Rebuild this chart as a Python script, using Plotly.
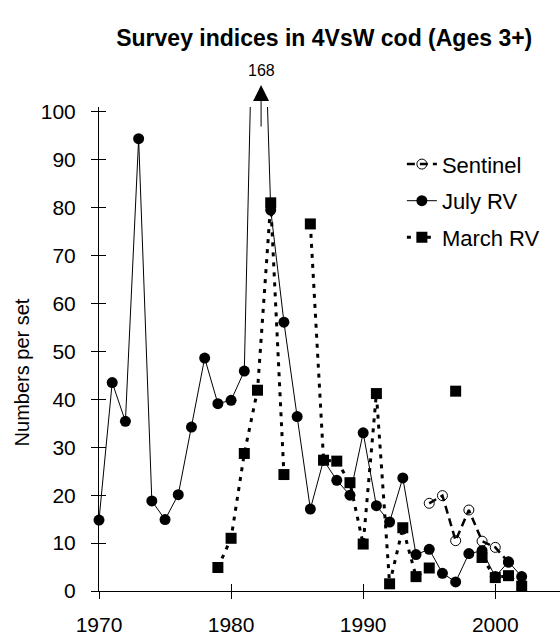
import plotly.graph_objects as go

# ---- data ----
july_years = list(range(1970, 2003))
july_values = [14.8, 43.5, 35.4, 94.4, 18.8, 14.9, 20.1, 34.2, 48.6, 39.1,
               39.8, 45.9, 168.0, 79.5, 56.1, 36.4, 17.1, 27.3, 23.1, 20.0,
               33.0, 17.8, 14.4, 23.6, 7.6, 8.7, 3.7, 1.9, 7.8, 8.4,
               3.0, 6.1, 3.0]

march_years = list(range(1979, 2003))
march_values = [4.9, 11.0, 28.7, 41.9, 81.0, 24.3, None, 76.6, 27.3, 27.1,
                22.6, 9.8, 41.2, 1.5, 13.2, 3.0, 4.8, None, 41.7, None,
                7.0, 2.8, 3.2, 1.0]

sentinel_years = list(range(1995, 2002))
sentinel_values = [18.3, 19.9, 10.5, 16.9, 10.4, 9.1, 6.0]

x_ticks = [1970, 1980, 1990, 2000]
y_ticks = list(range(0, 101, 10))
off_scale_label = "168"
off_scale_year = 1982.27

title_text = "Survey indices in 4VsW cod (Ages 3+)"
y_title = "Numbers per set"

FONT = "Liberation Sans, Arial, sans-serif"

xr = [1970, 2004.9]
yr = [0, 101]

fig = go.Figure()

fig.add_trace(go.Scatter(
    x=sentinel_years, y=sentinel_values, name="Sentinel",
    mode="lines+markers", legendgroup="a",
    line=dict(color="black", width=2.5, dash="8px,5px"),
    marker=dict(symbol="circle-open", size=10, color="black", line=dict(width=1)),
    cliponaxis=False,
))
fig.add_trace(go.Scatter(
    x=july_years, y=july_values, name="July RV",
    mode="lines+markers", legendgroup="b",
    line=dict(color="black", width=1),
    marker=dict(symbol="circle", size=11, color="black"),
    cliponaxis=False,
))
fig.add_trace(go.Scatter(
    x=march_years, y=march_values, name="March RV",
    mode="lines+markers", legendgroup="c",
    line=dict(color="black", width=3, dash="4px,6px"),
    marker=dict(symbol="square", size=11, color="black"),
    connectgaps=False,
    cliponaxis=False,
))

# invisible trace so the overlay axes (inner half of crossing ticks) are drawn
fig.add_trace(go.Scatter(x=xr, y=yr, xaxis="x2", yaxis="y2", mode="markers",
                         marker=dict(opacity=0), showlegend=False, hoverinfo="skip"))

fig.update_layout(
    width=560, height=635,
    margin=dict(l=99, r=0, t=107, b=44),
    paper_bgcolor="white", plot_bgcolor="white",
    font=dict(family=FONT, color="black", size=21),
    title=dict(text="<b>" + title_text + "</b>", x=0.579, xanchor="center",
               y=0.94, yanchor="middle", font=dict(size=23, family=FONT)),
    showlegend=True,
    legend=dict(x=0.657, xanchor="left", y=0.925, yanchor="top",
                font=dict(size=22), tracegroupgap=5, bgcolor="rgba(0,0,0,0)",
                itemwidth=30),
    xaxis=dict(range=xr, tickvals=x_ticks, ticks="outside", ticklen=7,
               tickcolor="black", showline=True, linecolor="black", linewidth=1,
               showgrid=False, zeroline=False, tickfont=dict(size=21),
               ticklabelstandoff=8),
    yaxis=dict(range=yr, tickvals=y_ticks, ticks="outside", ticklen=7,
               tickcolor="black", showline=True, linecolor="black", linewidth=1,
               showgrid=False, zeroline=False, tickfont=dict(size=21),
               ticklabelstandoff=11),
    xaxis2=dict(range=xr, overlaying="x", anchor="y2", side="bottom",
                tickvals=x_ticks, ticks="inside", ticklen=7, tickcolor="black",
                showticklabels=False, showline=False, showgrid=False, zeroline=False),
    yaxis2=dict(range=yr, overlaying="y", anchor="x2", side="left",
                tickvals=y_ticks, ticks="inside", ticklen=7, tickcolor="black",
                showticklabels=False, showline=False, showgrid=False, zeroline=False),
)

# arrow for off-scale value
fig.add_annotation(x=off_scale_year, y=1.0455, xref="x", yref="paper", text="",
                   showarrow=True, arrowhead=2, arrowsize=3.2, arrowwidth=1,
                   arrowcolor="black", ax=0, ay=43, standoff=0)
fig.add_annotation(x=off_scale_year, y=1.0764, xref="x", yref="paper",
                   text=off_scale_label, showarrow=False, yanchor="middle",
                   font=dict(size=16))
# y-axis title
fig.add_annotation(x=-0.165, y=45.6, xref="paper", yref="y", text=y_title,
                   textangle=-90, showarrow=False, xanchor="center", yanchor="middle",
                   font=dict(size=20))

fig.write_html("out.html")
